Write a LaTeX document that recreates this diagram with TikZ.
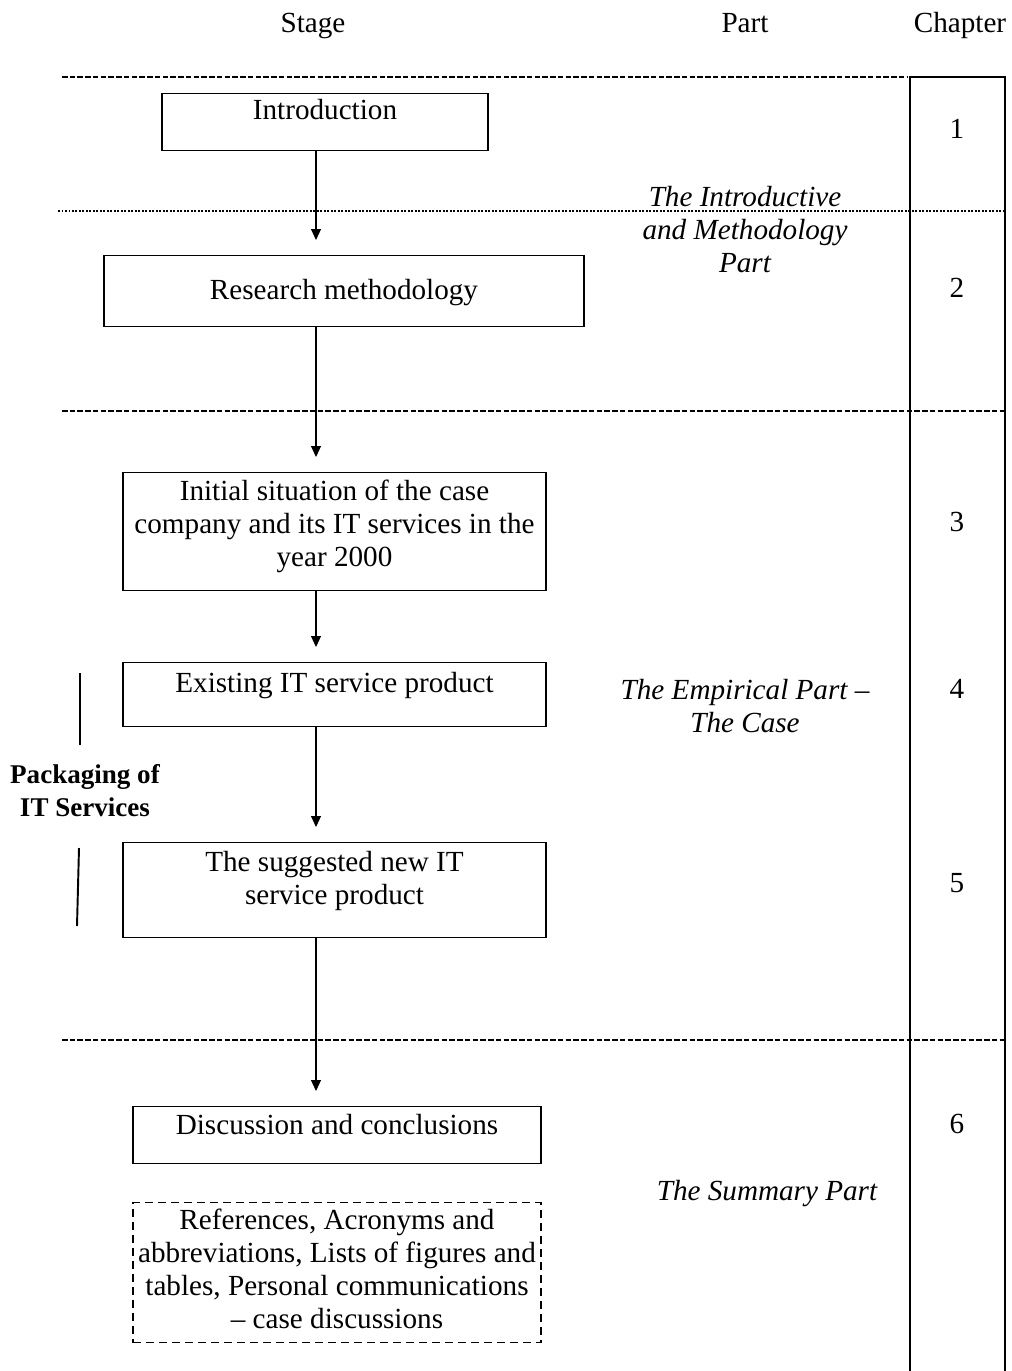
\documentclass[tikz,border=0pt]{standalone}
\usepackage{fontspec}
\setmainfont{Liberation Serif}
\usepackage{xcolor}
\usepackage{tikz}
\usetikzlibrary{arrows.meta}
\tikzset{
  stagebox/.style={draw, line width=0.8pt, inner sep=0pt, anchor=north, align=center},
  extrabox/.style={stagebox, dash pattern=on 0.16cm off 0.1cm, line width=0.7pt},
  flow/.style={-{Triangle[length=0.22cm,width=0.2cm]}, line width=0.6pt, shorten >=0.3cm},
  sepline/.style={line width=1.4pt, dash pattern=on 0.11cm off 0.045cm},
  dotline/.style={line width=1.1pt, dash pattern=on 0.035cm off 0.035cm},
  colline/.style={line width=1pt},
  partlab/.style={font=\itshape, align=center},
  hdr/.style={anchor=base},
  chapnum/.style={anchor=base}
}

\begin{document}
\fontsize{16.6}{18.8}\selectfont
\begin{tikzpicture}[x=0.02cm, y=-0.02cm, font=\fontsize{16.6}{18.8}\selectfont]
  \useasboundingbox (0,0) rectangle (1011,1371);

  % column headers
  \node[hdr] (hstage) at (313,33) {Stage};
  \node[hdr] (hpart) at (745,33) {Part};
  \node[hdr] (hchap) at (960,33) {Chapter};

  % chapter column and part separators
  \draw[colline] (910,1371) -- (910,77) -- (1005,77) -- (1005,1371);
  \draw[sepline] (62,77) -- (908,77);
  \draw[dotline] (58,211) -- (1005,211);
  \draw[sepline] (62,411) -- (1005,411);
  \draw[sepline] (62,1040) -- (1005,1040);

  % stages (multi-line text sits on its last baseline)
  \node[stagebox, minimum width=6.52cm, text height=0.52cm, text depth=0.62cm]
    (intro) at (325,93) {Introduction};
  \node[stagebox, minimum width=9.6cm, text height=0.88cm, text depth=0.54cm]
    (method) at (344,255) {Research methodology};
  \node[stagebox, minimum width=8.46cm, text height=1.88cm, text depth=0.48cm]
    (initial) at (334.5,472) {Initial situation of the case\\company and its IT services in the\\year 2000};
  \node[stagebox, minimum width=8.46cm, text height=0.6cm, text depth=0.68cm]
    (existing) at (334.5,662) {Existing IT service product};
  \node[stagebox, minimum width=8.46cm, text height=1.24cm, text depth=0.66cm]
    (suggested) at (334.5,842) {The suggested new IT\\service product};
  \node[stagebox, minimum width=8.16cm, text height=0.56cm, text depth=0.58cm]
    (discuss) at (337,1106) {Discussion and conclusions};
  \node[extrabox, minimum width=8.16cm, text height=2.52cm, text depth=0.28cm]
    (extras) at (337,1202) {References, Acronyms and\\abbreviations, Lists of figures and\\tables, Personal communications\\-- case discussions};

  % flow
  \coordinate (spine) at (316,0);
  \draw[flow] (intro.south -| spine) -- (method.north -| spine);
  \draw[flow] (method.south -| spine) -- (initial.north -| spine);
  \draw[flow] (initial.south -| spine) -- (existing.north -| spine);
  \draw[flow] (existing.south -| spine) -- (suggested.north -| spine);
  \draw[flow] (suggested.south -| spine) -- (discuss.north -| spine);

  % packaging bracket
  \node[font=\fontsize{15.4}{18.8}\selectfont\bfseries, align=center] (pack) at (85,791) {Packaging of\\IT Services};
  \draw[line width=1.1pt] (80,673) -- (80,745);
  \draw[line width=1.1pt] (79,848) -- (77,926);

  % parts
  \node[partlab] (introPart) at (745,230) {The Introductive\\and Methodology\\Part};
  \node[partlab] (casePart) at (745,706) {The Empirical Part --\\The Case};
  \node[partlab] (sumPart) at (767,1194) {The Summary Part};

  % chapters
  \node[chapnum] (c1) at (957,139) {1};
  \node[chapnum] (c2) at (957,298) {2};
  \node[chapnum] (c3) at (957,531) {3};
  \node[chapnum] (c4) at (957,698) {4};
  \node[chapnum] (c5) at (957,892) {5};
  \node[chapnum] (c6) at (957,1133) {6};
\end{tikzpicture}
\end{document}
